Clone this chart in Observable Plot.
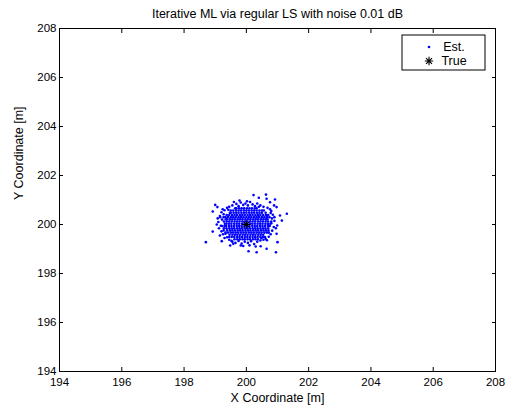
<!DOCTYPE html>
<html>
<head>
<meta charset="utf-8">
<script src="https://cdn.jsdelivr.net/npm/d3@7"></script>
<script src="https://cdn.jsdelivr.net/npm/@observablehq/plot@0.6"></script>
<style>
  html, body { margin: 0; padding: 0; background: #fff; }
  svg { display: block; font-family: "Liberation Sans", Arial, sans-serif; }
</style>
</head>
<body>
<div id="chart"></div>
<script>
// ---- data ----
const titleText = "Iterative ML via regular LS with noise 0.01 dB";
const xLabel = "X Coordinate [m]";
const yLabel = "Y Coordinate [m]";
const xTicks = [194, 196, 198, 200, 202, 204, 206, 208];
const yTicks = [194, 196, 198, 200, 202, 204, 206, 208];
const legendLabels = ["Est.", "True"];

// true position
const truePos = [[200, 200]];

// dense core of the estimate cloud: [y, [x values]]
const coreRows = [
  [199.40, [199.62,199.71,199.79,199.88,199.95,200.04,200.12,200.21,200.29,200.37]],
  [199.49, [199.45,199.53,199.61,199.70,199.78,199.86,199.95,200.03,200.11,200.20,200.28,200.36,200.45,200.53,200.60]],
  [199.58, [199.46,199.55,199.63,199.71,199.79,199.88,199.96,200.04,200.13,200.21,200.29,200.38,200.46,200.54]],
  [199.67, [199.33,199.41,199.50,199.58,199.66,199.74,199.83,199.91,199.99,200.08,200.16,200.24,200.33,200.41,200.49,200.58,200.66,200.72]],
  [199.76, [199.38,199.47,199.55,199.63,199.72,199.80,199.88,199.97,200.05,200.13,200.22,200.30,200.38,200.47,200.55,200.63,200.71]],
  [199.85, [199.28,199.36,199.45,199.53,199.61,199.70,199.78,199.86,199.95,200.03,200.11,200.20,200.28,200.36,200.45,200.53,200.61,200.70]],
  [199.94, [199.22,199.30,199.35,199.44,199.52,199.60,199.69,199.77,199.85,199.94,200.02,200.10,200.19,200.27,200.35,200.44,200.52,200.60,200.69,200.75]],
  [200.03, [199.31,199.36,199.44,199.52,199.61,199.69,199.77,199.86,199.94,200.02,200.11,200.19,200.27,200.36,200.44,200.52,200.61,200.69,200.77]],
  [200.12, [199.28,199.37,199.45,199.53,199.62,199.70,199.78,199.87,199.95,200.03,200.12,200.20,200.28,200.37,200.45,200.53,200.62,200.70,200.80]],
  [200.21, [199.34,199.38,199.47,199.55,199.63,199.72,199.80,199.88,199.97,200.05,200.13,200.22,200.30,200.38,200.47,200.55,200.63,200.68]],
  [200.30, [199.27,199.33,199.41,199.50,199.58,199.66,199.75,199.83,199.91,200.00,200.08,200.16,200.25,200.33,200.41,200.50,200.58,200.66,200.74]],
  [200.39, [199.37,199.45,199.54,199.62,199.70,199.79,199.87,199.95,200.04,200.12,200.20,200.29,200.37,200.45,200.54,200.63,200.70]],
  [200.48, [199.47,199.50,199.59,199.67,199.75,199.84,199.92,200.00,200.09,200.17,200.25,200.34,200.42,200.50]],
  [200.57, [199.50,199.58,199.67,199.75,199.83,199.92,200.00,200.08,200.17,200.25,200.33,200.42,200.50,200.56]],
  [200.66, [199.64,199.68,199.77,199.85,199.93,200.02,200.10,200.18,200.27,200.33]]
];

// scattered fringe of the cloud: [x, y]
const fringe = [
  [199.55,200.78],[199.68,200.84],[199.75,200.75],[199.82,200.90],[199.90,200.80],[199.97,200.86],
  [200.05,200.78],[200.12,200.92],[200.20,200.82],[200.28,200.75],[200.35,200.86],[200.45,200.78],
  [200.55,200.72],[199.45,200.72],[199.38,200.68],[199.78,200.98],[200.02,200.95],[199.60,200.92],
  [199.20,200.50],[199.15,200.35],[199.22,200.20],[199.10,200.10],[199.18,199.95],[199.12,199.85],
  [199.20,199.72],[199.25,199.60],[199.15,199.55],[199.30,199.45],[199.05,200.00],[199.24,200.62],
  [199.30,200.58],[199.08,200.25],
  [200.80,200.55],[200.85,200.40],[200.82,200.25],[200.90,200.15],[200.80,200.05],[200.88,199.90],
  [200.83,199.75],[200.78,199.60],[200.72,199.50],[200.90,200.30],[200.95,199.85],[200.76,200.62],
  [200.68,200.68],
  [199.45,199.38],[199.55,199.30],[199.65,199.25],[199.75,199.33],[199.85,199.22],[199.95,199.30],
  [200.05,199.25],[200.15,199.32],[200.25,199.20],[200.35,199.30],[200.45,199.35],[200.55,199.38],
  [200.62,199.42],[199.38,199.48],[200.10,199.15],[199.90,199.12],[200.30,199.10],
  [199.33,199.62],[199.27,200.42],[200.66,199.36],[200.78,200.47],[199.52,199.33],[200.40,200.72],
  [199.42,200.60],[200.70,199.98],[200.48,199.44],[200.62,200.48]
];

// outlying estimates: [x, y]
const outliers = [
  [198.70,199.28],[198.92,199.71],[199.21,199.32],[199.00,200.80],[199.07,200.71],[198.92,200.53],
  [200.23,201.20],[200.40,201.09],[200.63,201.22],[200.65,201.05],[200.76,200.91],[200.92,201.02],
  [200.89,200.78],[200.97,200.71],[201.30,200.44],[201.08,200.37],[201.14,200.16],[200.99,199.96],
  [200.97,199.62],[201.00,199.28],[200.95,198.87],[200.65,199.01],[200.46,199.11],[200.33,198.87],
  [200.07,198.91],[199.82,199.14],[199.58,199.21],[199.48,199.14],[199.16,200.30],[199.27,199.76]
];

const est = [
  ...coreRows.flatMap(([y, xs]) => xs.map(x => [x, y])),
  ...fringe,
  ...outliers
];

// MATLAB-like '*' marker (plus + cross)
const matlabStar = {
  draw(ctx, size) {
    const r = Math.sqrt(size / Math.PI);
    const d = r * Math.SQRT1_2;
    ctx.moveTo(-r, 0); ctx.lineTo(r, 0);
    ctx.moveTo(0, -r); ctx.lineTo(0, r);
    ctx.moveTo(-d, -d); ctx.lineTo(d, d);
    ctx.moveTo(-d, d); ctx.lineTo(d, -d);
  }
};

const tickFont = 11.5;
const labelFont = 12.5;

const chart = Plot.plot({
  width: 512,
  height: 409,
  marginLeft: 59,
  marginRight: 17,
  marginTop: 28,
  marginBottom: 38,
  style: { fontFamily: '"Liberation Sans", Arial, sans-serif', fontSize: tickFont + "px", background: "#fff", color: "#000" },
  x: { domain: [194, 208], label: null },
  y: { domain: [194, 208], label: null },
  marks: [
    Plot.dot(est, { x: d => d[0], y: d => d[1], r: 1.3, fill: "#0000ff", stroke: null }),
    Plot.dot(truePos, { x: d => d[0], y: d => d[1], r: 4.2, symbol: matlabStar, stroke: "#000", fill: "none", strokeWidth: 1.1 }),
    Plot.frame({ stroke: "#000", strokeWidth: 1 }),
    Plot.axisX({ ticks: xTicks, tickSize: -4, tickPadding: 10, tickFormat: d => d, fontSize: tickFont, label: null }),
    Plot.axisX({ anchor: "top", ticks: xTicks, tickSize: -4, tickFormat: () => "", label: null }),
    Plot.axisY({ ticks: yTicks, tickSize: -4, tickPadding: 7, tickFormat: d => d, fontSize: tickFont, label: null }),
    Plot.axisY({ anchor: "right", ticks: yTicks, tickSize: -4, tickFormat: () => "", label: null }),
    Plot.text([titleText], { text: d => d, frameAnchor: "top", dy: -15, lineAnchor: "middle", fontSize: labelFont }),
    Plot.text([xLabel], { text: d => d, frameAnchor: "bottom", dy: 26, lineAnchor: "middle", fontSize: labelFont }),
    Plot.text([yLabel], { text: d => d, frameAnchor: "left", dx: -41, rotate: -90, lineAnchor: "middle", fontSize: labelFont })
  ]
});

// legend box (top-right, inside the axes), MATLAB style
const svg = d3.select(chart);
const lg = svg.append("g").attr("class", "legend");
const lgX = 402, lgY = 35, lgW = 83, lgH = 35;
lg.append("rect").attr("x", lgX).attr("y", lgY).attr("width", lgW).attr("height", lgH)
  .attr("fill", "#fff").attr("stroke", "#000").attr("stroke-width", 1);
legendLabels.forEach((lab, i) => {
  const cy = lgY + 12 + i * 14;
  if (i === 0) {
    lg.append("circle").attr("cx", lgX + 27).attr("cy", cy).attr("r", 1.3).attr("fill", "#0000ff");
  } else {
    const p = d3.path();
    matlabStar.draw(p, 4.2 * 4.2 * Math.PI);
    lg.append("path").attr("d", p.toString()).attr("transform", `translate(${lgX + 27},${cy})`)
      .attr("stroke", "#000").attr("stroke-width", 1.1).attr("fill", "none");
  }
  lg.append("text").attr("x", lgX + 52).attr("y", cy).attr("dy", "0.35em")
    .attr("font-size", labelFont + "px").attr("fill", "#000").text(lab);
});

document.getElementById("chart").appendChild(chart);
</script>
</body>
</html>
